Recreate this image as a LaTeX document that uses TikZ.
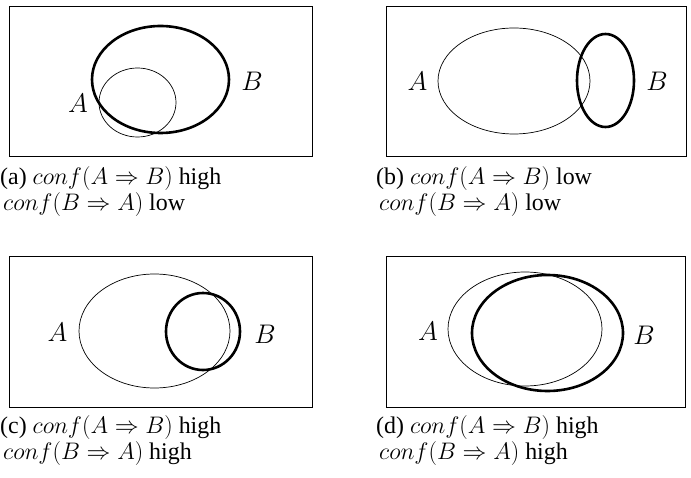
\RequirePackage{fix-cm}
\documentclass[tikz,border=0pt]{standalone}
\usepackage{fontspec}
\setmainfont{Liberation Serif}
\newcommand{\twolines}[2]{\vtop{\baselineskip=26bp\lineskiplimit=-100bp\hbox{#1}\hbox{\hspace*{3bp}#2}}}
\begin{document}
\begin{tikzpicture}[x=1bp,y=-1bp,
  frame/.style={draw, line width=0.8bp},
  thinset/.style={draw, line width=0.7bp},
  thickset/.style={draw, line width=2.6bp},
  setlabel/.style={font=\fontsize{27}{32}\selectfont, inner sep=0},
  captext/.style={font=\fontsize{24}{26}\selectfont, anchor=base west, inner sep=0}]
\useasboundingbox (0,0) rectangle (691,478);
% (a)
\draw[frame] (9,6) rectangle (312,156);
\draw[thickset] (160.5,79.5) ellipse [x radius=68.5bp, y radius=53.5bp];
\draw[thinset] (137.5,102.5) ellipse [x radius=38.5bp, y radius=34.5bp];
\node[setlabel] (aA) at (78,103) {$A$};
\node[setlabel] (aB) at (252,81.5) {$B$};
\node[captext] (acap) at (0,185) {\twolines{(a) $conf(A\Rightarrow B)$ high}{$conf(B\Rightarrow A)$ low}};
% (b)
\draw[frame] (386,6) rectangle (686,156);
\draw[thinset] (514,81) ellipse [x radius=76bp, y radius=53bp];
\draw[thickset] (605.5,80.5) ellipse [x radius=28.5bp, y radius=46.5bp];
\node[setlabel] (bA) at (417.5,81) {$A$};
\node[setlabel] (bB) at (657,81) {$B$};
\node[captext] (bcap) at (376,185) {\twolines{(b) $conf(A\Rightarrow B)$ low}{$conf(B\Rightarrow A)$ low}};
% (c)
\draw[frame] (9,256) rectangle (312,407);
\draw[thinset] (154.5,331) ellipse [x radius=75.5bp, y radius=57bp];
\draw[thickset] (203,331.5) ellipse [x radius=37bp, y radius=38.5bp];
\node[setlabel] (cA) at (57.5,332.5) {$A$};
\node[setlabel] (cB) at (265,334) {$B$};
\node[captext] (ccap) at (0,433) {\twolines{(c) $conf(A\Rightarrow B)$ high}{$conf(B\Rightarrow A)$ high}};
% (d)
\draw[frame] (386,256) rectangle (685,407);
\draw[thinset] (525,329) ellipse [x radius=77bp, y radius=57bp];
\draw[thickset] (547.5,333) ellipse [x radius=75.5bp, y radius=58bp];
\node[setlabel] (dA) at (428,331) {$A$};
\node[setlabel] (dB) at (644,335.5) {$B$};
\node[captext] (dcap) at (376,433) {\twolines{(d) $conf(A\Rightarrow B)$ high}{$conf(B\Rightarrow A)$ high}};
\end{tikzpicture}
\end{document}
